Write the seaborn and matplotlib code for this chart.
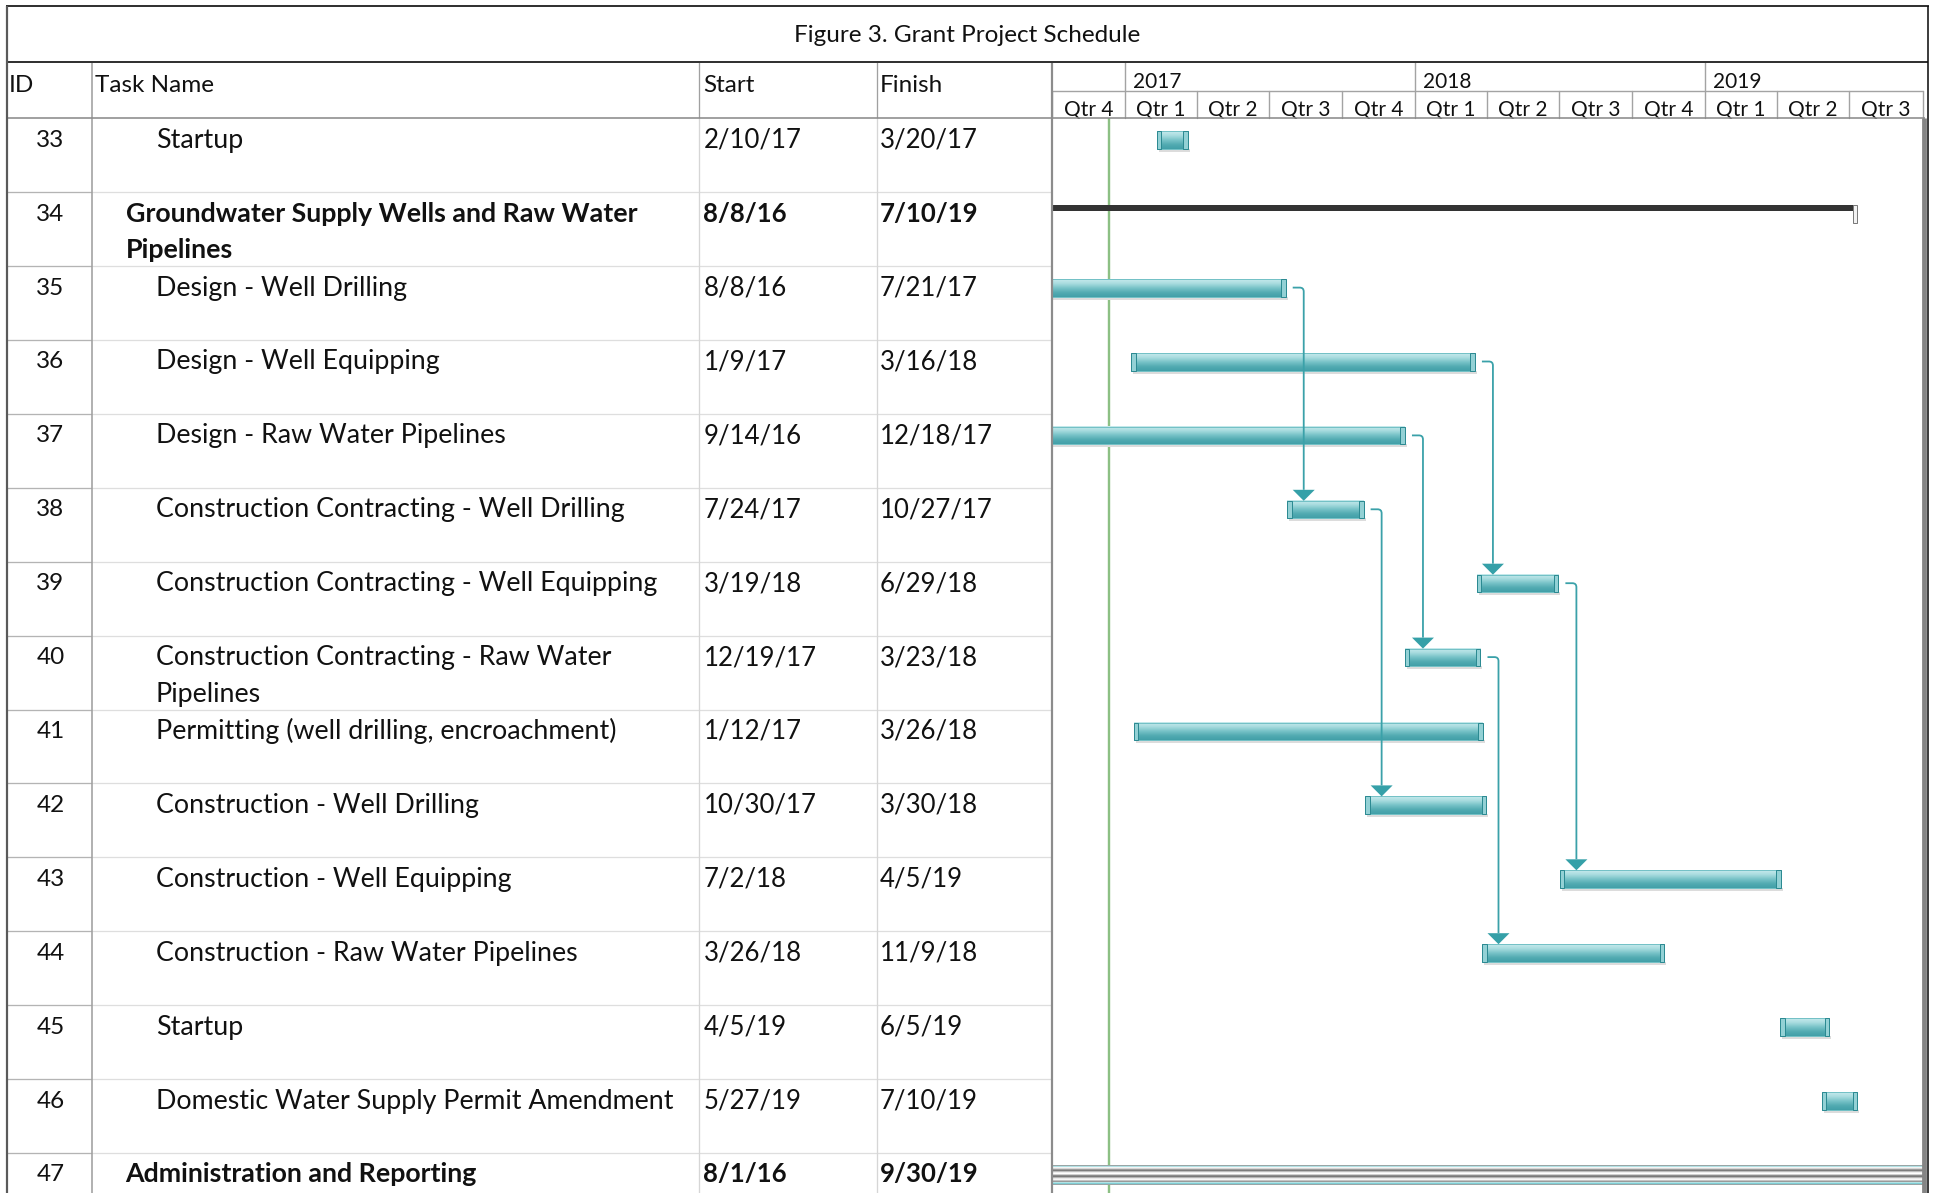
import numpy as np
import pandas as pd
import matplotlib
matplotlib.use("Agg")
import matplotlib.pyplot as plt
import matplotlib.dates as mdates
from matplotlib.patches import Rectangle, Polygon, PathPatch
from matplotlib.path import Path
from matplotlib.colors import LinearSegmentedColormap, to_rgb
import seaborn as sns

# ---------------------------------------------------------------- data
task_ids = [33, 34, 35, 36, 37, 38, 39, 40, 41, 42, 43, 44, 45, 46, 47]
task_names = [
    "Startup",
    "Groundwater Supply Wells and Raw Water\nPipelines",
    "Design - Well Drilling",
    "Design - Well Equipping",
    "Design - Raw Water Pipelines",
    "Construction Contracting - Well Drilling",
    "Construction Contracting - Well Equipping",
    "Construction Contracting - Raw Water\nPipelines",
    "Permitting (well drilling, encroachment)",
    "Construction - Well Drilling",
    "Construction - Well Equipping",
    "Construction - Raw Water Pipelines",
    "Startup",
    "Domestic Water Supply Permit Amendment",
    "Administration and Reporting",
]
start_dates = ["2/10/17", "8/8/16", "8/8/16", "1/9/17", "9/14/16", "7/24/17", "3/19/18",
               "12/19/17", "1/12/17", "10/30/17", "7/2/18", "3/26/18", "4/5/19", "5/27/19",
               "8/1/16"]
finish_dates = ["3/20/17", "7/10/19", "7/21/17", "3/16/18", "12/18/17", "10/27/17", "6/29/18",
                "3/23/18", "3/26/18", "3/30/18", "4/5/19", "11/9/18", "6/5/19", "7/10/19",
                "9/30/19"]
summary_ids = [34, 47]
rollup_ids = [47]
links = [(35, 38), (36, 39), (37, 40), (38, 42), (39, 43), (40, 44)]
status_date = "12/12/16"
timescale_start = "10/1/16"
timescale_end = "10/1/19"
title = "Figure 3. Grant Project Schedule"
column_titles = ["ID", "Task Name", "Start", "Finish"]

# ---------------------------------------------------------------- layout
W, H, DPI = 1937, 1193, 100
TBL_L, TBL_R = 7, 1928
TBL_T = 6
TITLE_B = 62
HEAD_B = 118.3
ROW_H = 73.9
COL_X = [TBL_L, 91.7, 698.5, 876.5, 1052.0]
CHART_L, CHART_R = 1052.0, 1922.5
YEAR_B = 90.7

sns.set_theme(style="white")
plt.rcParams["font.family"] = ["Lato", "DejaVu Sans"]
plt.rcParams["text.color"] = "#111111"

fmt = "%m/%d/%y"
starts = pd.to_datetime(start_dates, format=fmt)
finishes = pd.to_datetime(finish_dates, format=fmt) + pd.Timedelta(days=1)
t0 = pd.to_datetime(timescale_start, format=fmt)
t1 = pd.to_datetime(timescale_end, format=fmt)
status = pd.to_datetime(status_date, format=fmt)

px_per_day = (CHART_R - CHART_L) / (t1 - t0).days


def dx(px):
    return px / px_per_day


def dy(px):
    return px / ROW_H


def lw(px):
    return px * 72.0 / DPI


fig = plt.figure(figsize=(W / DPI, H / DPI), dpi=DPI)
fig.patch.set_facecolor("white")

# Gantt area: x in dates, y in row units (header occupies negative rows)
gx = fig.add_axes([CHART_L / W, 0, (CHART_R - CHART_L) / W, (H - TITLE_B) / H])
gx.set_axis_off()

# Table area in pixel units, drawn on top of the Gantt area
tab = fig.add_axes([0, 0, 1, 1], zorder=3)
tab.patch.set_alpha(0)
tab.set_axis_off()
tab.set_xlim(0, W)
tab.set_ylim(H, 0)

x0n = mdates.date2num(t0)
x1n = mdates.date2num(t1)
row_bottom = (H - HEAD_B) / ROW_H
row_top_lim = -(HEAD_B - TITLE_B) / ROW_H

teal = LinearSegmentedColormap.from_list(
    "teal_bar", ["#c6eaec", "#a8dcdf", "#78c3c8", "#53abb2", "#42a0a8"])
grad = np.linspace(0, 1, 64).reshape(-1, 1)

stripe_cols = ["#7fcdd3", "#b2e2e5", "#f4f4f4", "#d6d6d6", "#9a9a9a", "#7d7d7d", "#bdbdbd",
               "#efefef", "#ffffff", "#d0d0d0", "#8c8c8c", "#7a7a7a", "#b5b5b5", "#e9e9e9",
               "#f7f7f7", "#c4c4c4", "#9a9a9a", "#b2e2e5", "#7fcdd3"]
stripes = np.array([to_rgb(c) for c in stripe_cols]).reshape(-1, 1, 3)

idx = {tid: i for i, tid in enumerate(task_ids)}

# status date line
gx.vlines(mdates.date2num(status), 0, row_bottom, color="#8cc084", lw=lw(2.4), zorder=1)

for i, tid in enumerate(task_ids):
    s = mdates.date2num(starts[i])
    e = mdates.date2num(finishes[i])
    if tid in rollup_ids:
        top, bot = i + dy(12.5), i + dy(31.5)
        gx.imshow(stripes, extent=(s, e, bot, top), aspect="auto",
                  interpolation="nearest", zorder=3)
        gx.add_patch(Rectangle((s, top), e - s, bot - top, fc="none", ec="#9aa5a6",
                               lw=lw(1.0), zorder=4))
    elif tid in summary_ids:
        top = i + dy(12.8)
        gx.add_patch(Rectangle((s, top), e - s, dy(5.6), fc="#333333", ec="none", zorder=3))
        gx.add_patch(Rectangle((e - dx(4.5), top), dx(4.5), dy(18.3), fc="#f2f2f2",
                               ec="#7a7a7a", lw=lw(1.0), zorder=4))
    else:
        top, bot = i + dy(13), i + dy(30.5)
        gx.add_patch(Rectangle((s + dx(2), bot), e - s, dy(3), fc="#dcdcdc", ec="none",
                               zorder=2))
        gx.imshow(grad, cmap=teal, extent=(s, e, bot, top), aspect="auto", zorder=3)
        gx.add_patch(Rectangle((s, top), e - s, bot - top, fc="none", ec="#74c1c6",
                               lw=lw(1.0), zorder=4))
        for cx in (s, e - dx(4.5)):
            gx.add_patch(Rectangle((cx, top), dx(4.5), bot - top, fc="#93d1d5",
                                   ec="#2c8a92", lw=lw(1.0), zorder=5))

# predecessor links
link_col = "#3aa1a9"
for pred, succ in links:
    pi, si = idx[pred], idx[succ]
    e = mdates.date2num(finishes[pi])
    y0 = pi + dy(21.5)
    xv = e + dx(18)
    tip = si + dy(13)
    base = tip - dy(11)
    verts = [(e + dx(7), y0), (xv - dx(4), y0), (xv, y0), (xv, y0 + dy(4)), (xv, base)]
    codes = [Path.MOVETO, Path.LINETO, Path.CURVE3, Path.CURVE3, Path.LINETO]
    gx.add_patch(PathPatch(Path(verts, codes), fc="none", ec=link_col, lw=lw(1.8),
                           zorder=6, capstyle="butt"))
    gx.add_patch(Polygon([(xv - dx(11), base), (xv + dx(11), base), (xv, tip)],
                         closed=True, fc="#35a0a8", ec="none", zorder=6))

# timescale header (years + quarters)
grid_c = "#a3a3a3"
q_starts = pd.date_range(t0, t1, freq="QS")
y_top = row_top_lim
y_mid = -(HEAD_B - YEAR_B) / ROW_H
for qs in q_starts:
    xn = mdates.date2num(qs)
    gx.plot([xn, xn], [y_mid, 0], color=grid_c, lw=lw(1.4), clip_on=False, zorder=2)
    if qs.month == 1:
        gx.plot([xn, xn], [y_top, y_mid], color=grid_c, lw=lw(1.4), clip_on=False, zorder=2)
        gx.annotate(str(qs.year), (xn, y_mid), xytext=(8, 3), textcoords="offset pixels",
                    ha="left", va="baseline", fontsize=15, annotation_clip=False)
for qs, qe in zip(q_starts[:-1], q_starts[1:]):
    xc = (mdates.date2num(qs) + mdates.date2num(qe)) / 2
    gx.annotate(f"Qtr {qs.quarter}", (xc, 0), xytext=(0, 2.5), textcoords="offset pixels",
                ha="center", va="baseline", fontsize=15, annotation_clip=False)
gx.plot([x0n, x1n], [y_mid, y_mid], color=grid_c, lw=lw(1.4), clip_on=False, zorder=2)

gx.set_xlim(x0n, x1n)
gx.set_ylim(row_bottom, row_top_lim)


# ---------------------------------------------------------------- table grid
def hl(y, xa, xb, c, w):
    tab.plot([xa, xb], [y, y], color=c, lw=lw(w), solid_capstyle="butt")


def vl(x, ya, yb, c, w):
    tab.plot([x, x], [ya, yb], color=c, lw=lw(w), solid_capstyle="butt")


for k in range(1, 15):
    y = HEAD_B + k * ROW_H
    hl(y, COL_X[0], COL_X[1], "#b4b4b4", 1.3)
    hl(y, COL_X[1], COL_X[4], "#dedede", 1.3)

vl(COL_X[1], TITLE_B, H, "#a0a0a0", 1.6)
for x in COL_X[2:4]:
    vl(x, TITLE_B, HEAD_B, "#a0a0a0", 1.3)
    vl(x, HEAD_B, H, "#d6d6d6", 1.3)
vl(COL_X[4], TITLE_B, H, "#8c8c8c", 2.2)

hl(HEAD_B, TBL_L, CHART_R + 2, "#8c8c8c", 1.6)
hl(TITLE_B, TBL_L, TBL_R, "#333333", 2.0)
hl(TBL_T, TBL_L - 1, TBL_R + 1, "#333333", 2.0)
vl(TBL_L, TBL_T, H, "#5a5a5a", 2.2)
vl(1924.3, HEAD_B, H, "#858585", 4.8)
vl(TBL_R, TBL_T, H, "#111111", 1.6)

# ---------------------------------------------------------------- text
tab.text((TBL_L + TBL_R) / 2, 42.5, title, ha="center", va="baseline", fontsize=17.5)
head_x = [COL_X[0] + 2, COL_X[1] + 3.5, COL_X[2] + 4.5, COL_X[3] + 3]
for x, t in zip(head_x, column_titles):
    tab.text(x, 91.5, t, ha="left", va="baseline", fontsize=17.5)

for i, tid in enumerate(task_ids):
    rt = HEAD_B + i * ROW_H
    bold = tid in summary_ids
    weight = "bold" if bold else "normal"
    tab.text((COL_X[0] + COL_X[1]) / 2 + 1, rt + 28.5, str(tid), ha="center",
             va="baseline", fontsize=17.5)
    name_x = 125.5 if bold else 156
    for j, line in enumerate(task_names[i].split("\n")):
        tab.text(name_x, rt + 29.5 + j * 36.7, line, ha="left", va="baseline",
                 fontsize=19.3, fontweight=weight)
    tab.text(COL_X[2] + 5, rt + 29.5, start_dates[i], ha="left", va="baseline",
             fontsize=18.5, fontweight=weight)
    tab.text(COL_X[3] + 3.5, rt + 29.5, finish_dates[i], ha="left", va="baseline",
             fontsize=18.5, fontweight=weight)

fig.savefig("out.png", dpi=DPI, facecolor="white")
